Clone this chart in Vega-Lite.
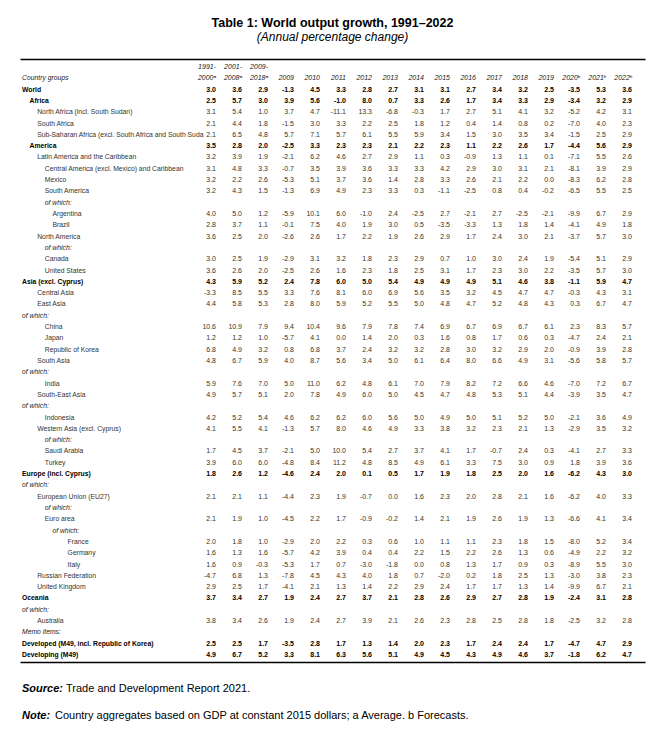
{
  "$schema": "https://vega.github.io/schema/vega-lite/v6.json",
  "width": 625,
  "height": 603,
  "autosize": {"type": "none"},
  "padding": {"left": 20, "top": 59, "right": 20, "bottom": 67},
  "background": "white",
  "title": {
    "text": "Table 1: World output growth, 1991–2022",
    "subtitle": "(Annual percentage change)",
    "anchor": "middle",
    "frame": "group",
    "font": "Liberation Sans",
    "fontSize": 12.5,
    "fontWeight": "bold",
    "color": "black",
    "subtitleFont": "Liberation Sans",
    "subtitleFontSize": 12,
    "subtitleFontStyle": "italic",
    "subtitleColor": "black",
    "offset": 16,
    "subtitlePadding": 3
  },
  "datasets": {
    "rows": [
      {"r": 0, "lv": 0, "k": "head", "name": "Country groups"},
      {"r": 1, "lv": 0, "k": "total", "name": "World", "p1": 3.0, "p2": 3.6, "p3": 2.9, "y09": -1.3, "y10": 4.5, "y11": 3.3, "y12": 2.8, "y13": 2.7, "y14": 3.1, "y15": 3.1, "y16": 2.7, "y17": 3.4, "y18": 3.2, "y19": 2.5, "y20": -3.5, "y21": 5.3, "y22": 3.6},
      {"r": 2, "lv": 1, "k": "total", "name": "Africa", "p1": 2.5, "p2": 5.7, "p3": 3.0, "y09": 3.9, "y10": 5.6, "y11": -1.0, "y12": 8.0, "y13": 0.7, "y14": 3.3, "y15": 2.6, "y16": 1.7, "y17": 3.4, "y18": 3.3, "y19": 2.9, "y20": -3.4, "y21": 3.2, "y22": 2.9},
      {"r": 3, "lv": 2, "k": "reg", "name": "North Africa (incl. South Sudan)", "p1": 3.1, "p2": 5.4, "p3": 1.0, "y09": 3.7, "y10": 4.7, "y11": -11.1, "y12": 13.3, "y13": -6.8, "y14": -0.3, "y15": 1.7, "y16": 2.7, "y17": 5.1, "y18": 4.1, "y19": 3.2, "y20": -5.2, "y21": 4.2, "y22": 3.1},
      {"r": 4, "lv": 2, "k": "reg", "name": "South Africa", "p1": 2.1, "p2": 4.4, "p3": 1.8, "y09": -1.5, "y10": 3.0, "y11": 3.3, "y12": 2.2, "y13": 2.5, "y14": 1.8, "y15": 1.2, "y16": 0.4, "y17": 1.4, "y18": 0.8, "y19": 0.2, "y20": -7.0, "y21": 4.0, "y22": 2.3},
      {"r": 5, "lv": 2, "k": "reg", "name": "Sub-Saharan Africa (excl. South Africa and South Suda", "p1": 2.1, "p2": 6.5, "p3": 4.8, "y09": 5.7, "y10": 7.1, "y11": 5.7, "y12": 6.1, "y13": 5.5, "y14": 5.9, "y15": 3.4, "y16": 1.5, "y17": 3.0, "y18": 3.5, "y19": 3.4, "y20": -1.5, "y21": 2.5, "y22": 2.9},
      {"r": 6, "lv": 1, "k": "total", "name": "America", "p1": 3.5, "p2": 2.8, "p3": 2.0, "y09": -2.5, "y10": 3.3, "y11": 2.3, "y12": 2.3, "y13": 2.1, "y14": 2.2, "y15": 2.3, "y16": 1.1, "y17": 2.2, "y18": 2.6, "y19": 1.7, "y20": -4.4, "y21": 5.6, "y22": 2.9},
      {"r": 7, "lv": 2, "k": "reg", "name": "Latin America and the Caribbean", "p1": 3.2, "p2": 3.9, "p3": 1.9, "y09": -2.1, "y10": 6.2, "y11": 4.6, "y12": 2.7, "y13": 2.9, "y14": 1.1, "y15": 0.3, "y16": -0.9, "y17": 1.3, "y18": 1.1, "y19": 0.1, "y20": -7.1, "y21": 5.5, "y22": 2.6},
      {"r": 8, "lv": 3, "k": "reg", "name": "Central America (excl. Mexico) and Caribbean", "p1": 3.1, "p2": 4.8, "p3": 3.3, "y09": -0.7, "y10": 3.5, "y11": 3.9, "y12": 3.6, "y13": 3.3, "y14": 3.3, "y15": 4.2, "y16": 2.9, "y17": 3.0, "y18": 3.1, "y19": 2.1, "y20": -8.1, "y21": 3.9, "y22": 2.9},
      {"r": 9, "lv": 3, "k": "reg", "name": "Mexico", "p1": 3.2, "p2": 2.2, "p3": 2.6, "y09": -5.3, "y10": 5.1, "y11": 3.7, "y12": 3.6, "y13": 1.4, "y14": 2.8, "y15": 3.3, "y16": 2.6, "y17": 2.1, "y18": 2.2, "y19": 0.0, "y20": -8.3, "y21": 6.2, "y22": 2.8},
      {"r": 10, "lv": 3, "k": "reg", "name": "South America", "p1": 3.2, "p2": 4.3, "p3": 1.5, "y09": -1.3, "y10": 6.9, "y11": 4.9, "y12": 2.3, "y13": 3.3, "y14": 0.3, "y15": -1.1, "y16": -2.5, "y17": 0.8, "y18": 0.4, "y19": -0.2, "y20": -6.5, "y21": 5.5, "y22": 2.5},
      {"r": 11, "lv": 3, "k": "ofw", "name": "of which:"},
      {"r": 12, "lv": 4, "k": "reg", "name": "Argentina", "p1": 4.0, "p2": 5.0, "p3": 1.2, "y09": -5.9, "y10": 10.1, "y11": 6.0, "y12": -1.0, "y13": 2.4, "y14": -2.5, "y15": 2.7, "y16": -2.1, "y17": 2.7, "y18": -2.5, "y19": -2.1, "y20": -9.9, "y21": 6.7, "y22": 2.9},
      {"r": 13, "lv": 4, "k": "reg", "name": "Brazil", "p1": 2.8, "p2": 3.7, "p3": 1.1, "y09": -0.1, "y10": 7.5, "y11": 4.0, "y12": 1.9, "y13": 3.0, "y14": 0.5, "y15": -3.5, "y16": -3.3, "y17": 1.3, "y18": 1.8, "y19": 1.4, "y20": -4.1, "y21": 4.9, "y22": 1.8},
      {"r": 14, "lv": 2, "k": "reg", "name": "North America", "p1": 3.6, "p2": 2.5, "p3": 2.0, "y09": -2.6, "y10": 2.6, "y11": 1.7, "y12": 2.2, "y13": 1.9, "y14": 2.6, "y15": 2.9, "y16": 1.7, "y17": 2.4, "y18": 3.0, "y19": 2.1, "y20": -3.7, "y21": 5.7, "y22": 3.0},
      {"r": 15, "lv": 3, "k": "ofw", "name": "of which:"},
      {"r": 16, "lv": 3, "k": "reg", "name": "Canada", "p1": 3.0, "p2": 2.5, "p3": 1.9, "y09": -2.9, "y10": 3.1, "y11": 3.2, "y12": 1.8, "y13": 2.3, "y14": 2.9, "y15": 0.7, "y16": 1.0, "y17": 3.0, "y18": 2.4, "y19": 1.9, "y20": -5.4, "y21": 5.1, "y22": 2.9},
      {"r": 17, "lv": 3, "k": "reg", "name": "United States", "p1": 3.6, "p2": 2.6, "p3": 2.0, "y09": -2.5, "y10": 2.6, "y11": 1.6, "y12": 2.3, "y13": 1.8, "y14": 2.5, "y15": 3.1, "y16": 1.7, "y17": 2.3, "y18": 3.0, "y19": 2.2, "y20": -3.5, "y21": 5.7, "y22": 3.0},
      {"r": 18, "lv": 0, "k": "total", "name": "Asia (excl. Cyprus)", "p1": 4.3, "p2": 5.9, "p3": 5.2, "y09": 2.4, "y10": 7.8, "y11": 6.0, "y12": 5.0, "y13": 5.4, "y14": 4.9, "y15": 4.9, "y16": 4.9, "y17": 5.1, "y18": 4.6, "y19": 3.8, "y20": -1.1, "y21": 5.9, "y22": 4.7},
      {"r": 19, "lv": 2, "k": "reg", "name": "Central Asia", "p1": -3.3, "p2": 8.5, "p3": 5.5, "y09": 3.3, "y10": 7.6, "y11": 8.1, "y12": 6.0, "y13": 6.9, "y14": 5.6, "y15": 3.5, "y16": 3.2, "y17": 4.5, "y18": 4.7, "y19": 4.7, "y20": -0.3, "y21": 4.3, "y22": 3.1},
      {"r": 20, "lv": 2, "k": "reg", "name": "East Asia", "p1": 4.4, "p2": 5.8, "p3": 5.3, "y09": 2.8, "y10": 8.0, "y11": 5.9, "y12": 5.2, "y13": 5.5, "y14": 5.0, "y15": 4.8, "y16": 4.7, "y17": 5.2, "y18": 4.8, "y19": 4.3, "y20": 0.3, "y21": 6.7, "y22": 4.7},
      {"r": 21, "lv": 0, "k": "ofw", "name": "of which:"},
      {"r": 22, "lv": 3, "k": "reg", "name": "China", "p1": 10.6, "p2": 10.9, "p3": 7.9, "y09": 9.4, "y10": 10.4, "y11": 9.6, "y12": 7.9, "y13": 7.8, "y14": 7.4, "y15": 6.9, "y16": 6.7, "y17": 6.9, "y18": 6.7, "y19": 6.1, "y20": 2.3, "y21": 8.3, "y22": 5.7},
      {"r": 23, "lv": 3, "k": "reg", "name": "Japan", "p1": 1.2, "p2": 1.2, "p3": 1.0, "y09": -5.7, "y10": 4.1, "y11": 0.0, "y12": 1.4, "y13": 2.0, "y14": 0.3, "y15": 1.6, "y16": 0.8, "y17": 1.7, "y18": 0.6, "y19": 0.3, "y20": -4.7, "y21": 2.4, "y22": 2.1},
      {"r": 24, "lv": 3, "k": "reg", "name": "Republic of Korea", "p1": 6.8, "p2": 4.9, "p3": 3.2, "y09": 0.8, "y10": 6.8, "y11": 3.7, "y12": 2.4, "y13": 3.2, "y14": 3.2, "y15": 2.8, "y16": 3.0, "y17": 3.2, "y18": 2.9, "y19": 2.0, "y20": -0.9, "y21": 3.9, "y22": 2.8},
      {"r": 25, "lv": 2, "k": "reg", "name": "South Asia", "p1": 4.8, "p2": 6.7, "p3": 5.9, "y09": 4.0, "y10": 8.7, "y11": 5.6, "y12": 3.4, "y13": 5.0, "y14": 6.1, "y15": 6.4, "y16": 8.0, "y17": 6.6, "y18": 4.9, "y19": 3.1, "y20": -5.6, "y21": 5.8, "y22": 5.7},
      {"r": 26, "lv": 0, "k": "ofw", "name": "of which:"},
      {"r": 27, "lv": 3, "k": "reg", "name": "India", "p1": 5.9, "p2": 7.6, "p3": 7.0, "y09": 5.0, "y10": 11.0, "y11": 6.2, "y12": 4.8, "y13": 6.1, "y14": 7.0, "y15": 7.9, "y16": 8.2, "y17": 7.2, "y18": 6.6, "y19": 4.6, "y20": -7.0, "y21": 7.2, "y22": 6.7},
      {"r": 28, "lv": 2, "k": "reg", "name": "South-East Asia", "p1": 4.9, "p2": 5.7, "p3": 5.1, "y09": 2.0, "y10": 7.8, "y11": 4.9, "y12": 6.0, "y13": 5.0, "y14": 4.5, "y15": 4.7, "y16": 4.8, "y17": 5.3, "y18": 5.1, "y19": 4.4, "y20": -3.9, "y21": 3.5, "y22": 4.7},
      {"r": 29, "lv": 0, "k": "ofw", "name": "of which:"},
      {"r": 30, "lv": 3, "k": "reg", "name": "Indonesia", "p1": 4.2, "p2": 5.2, "p3": 5.4, "y09": 4.6, "y10": 6.2, "y11": 6.2, "y12": 6.0, "y13": 5.6, "y14": 5.0, "y15": 4.9, "y16": 5.0, "y17": 5.1, "y18": 5.2, "y19": 5.0, "y20": -2.1, "y21": 3.6, "y22": 4.9},
      {"r": 31, "lv": 2, "k": "reg", "name": "Western Asia (excl. Cyprus)", "p1": 4.1, "p2": 5.5, "p3": 4.1, "y09": -1.3, "y10": 5.7, "y11": 8.0, "y12": 4.6, "y13": 4.9, "y14": 3.3, "y15": 3.8, "y16": 3.2, "y17": 2.3, "y18": 2.1, "y19": 1.3, "y20": -2.9, "y21": 3.5, "y22": 3.2},
      {"r": 32, "lv": 3, "k": "ofw", "name": "of which:"},
      {"r": 33, "lv": 3, "k": "reg", "name": "Saudi Arabia", "p1": 1.7, "p2": 4.5, "p3": 3.7, "y09": -2.1, "y10": 5.0, "y11": 10.0, "y12": 5.4, "y13": 2.7, "y14": 3.7, "y15": 4.1, "y16": 1.7, "y17": -0.7, "y18": 2.4, "y19": 0.3, "y20": -4.1, "y21": 2.7, "y22": 3.3},
      {"r": 34, "lv": 3, "k": "reg", "name": "Turkey", "p1": 3.9, "p2": 6.0, "p3": 6.0, "y09": -4.8, "y10": 8.4, "y11": 11.2, "y12": 4.8, "y13": 8.5, "y14": 4.9, "y15": 6.1, "y16": 3.3, "y17": 7.5, "y18": 3.0, "y19": 0.9, "y20": 1.8, "y21": 3.9, "y22": 3.6},
      {"r": 35, "lv": 0, "k": "total", "name": "Europe (incl. Cyprus)", "p1": 1.8, "p2": 2.6, "p3": 1.2, "y09": -4.6, "y10": 2.4, "y11": 2.0, "y12": 0.1, "y13": 0.5, "y14": 1.7, "y15": 1.9, "y16": 1.8, "y17": 2.5, "y18": 2.0, "y19": 1.6, "y20": -6.2, "y21": 4.3, "y22": 3.0},
      {"r": 36, "lv": 0, "k": "ofw", "name": "of which:"},
      {"r": 37, "lv": 2, "k": "reg", "name": "European Union (EU27)", "p1": 2.1, "p2": 2.1, "p3": 1.1, "y09": -4.4, "y10": 2.3, "y11": 1.9, "y12": -0.7, "y13": 0.0, "y14": 1.6, "y15": 2.3, "y16": 2.0, "y17": 2.8, "y18": 2.1, "y19": 1.6, "y20": -6.2, "y21": 4.0, "y22": 3.3},
      {"r": 38, "lv": 3, "k": "ofw", "name": "of which:"},
      {"r": 39, "lv": 3, "k": "reg", "name": "Euro area", "p1": 2.1, "p2": 1.9, "p3": 1.0, "y09": -4.5, "y10": 2.2, "y11": 1.7, "y12": -0.9, "y13": -0.2, "y14": 1.4, "y15": 2.1, "y16": 1.9, "y17": 2.6, "y18": 1.9, "y19": 1.3, "y20": -6.6, "y21": 4.1, "y22": 3.4},
      {"r": 40, "lv": 4, "k": "ofw", "name": "of which:"},
      {"r": 41, "lv": 6, "k": "reg", "name": "France", "p1": 2.0, "p2": 1.8, "p3": 1.0, "y09": -2.9, "y10": 2.0, "y11": 2.2, "y12": 0.3, "y13": 0.6, "y14": 1.0, "y15": 1.1, "y16": 1.1, "y17": 2.3, "y18": 1.8, "y19": 1.5, "y20": -8.0, "y21": 5.2, "y22": 3.4},
      {"r": 42, "lv": 6, "k": "reg", "name": "Germany", "p1": 1.6, "p2": 1.3, "p3": 1.6, "y09": -5.7, "y10": 4.2, "y11": 3.9, "y12": 0.4, "y13": 0.4, "y14": 2.2, "y15": 1.5, "y16": 2.2, "y17": 2.6, "y18": 1.3, "y19": 0.6, "y20": -4.9, "y21": 2.2, "y22": 3.2},
      {"r": 43, "lv": 6, "k": "reg", "name": "Italy", "p1": 1.6, "p2": 0.9, "p3": -0.3, "y09": -5.3, "y10": 1.7, "y11": 0.7, "y12": -3.0, "y13": -1.8, "y14": 0.0, "y15": 0.8, "y16": 1.3, "y17": 1.7, "y18": 0.9, "y19": 0.3, "y20": -8.9, "y21": 5.5, "y22": 3.0},
      {"r": 44, "lv": 2, "k": "reg", "name": "Russian Federation", "p1": -4.7, "p2": 6.8, "p3": 1.3, "y09": -7.8, "y10": 4.5, "y11": 4.3, "y12": 4.0, "y13": 1.8, "y14": 0.7, "y15": -2.0, "y16": 0.2, "y17": 1.8, "y18": 2.5, "y19": 1.3, "y20": -3.0, "y21": 3.8, "y22": 2.3},
      {"r": 45, "lv": 2, "k": "reg", "name": "United Kingdom", "p1": 2.9, "p2": 2.5, "p3": 1.7, "y09": -4.1, "y10": 2.1, "y11": 1.3, "y12": 1.4, "y13": 2.2, "y14": 2.9, "y15": 2.4, "y16": 1.7, "y17": 1.7, "y18": 1.3, "y19": 1.4, "y20": -9.9, "y21": 6.7, "y22": 2.1},
      {"r": 46, "lv": 0, "k": "total", "name": "Oceania", "p1": 3.7, "p2": 3.4, "p3": 2.7, "y09": 1.9, "y10": 2.4, "y11": 2.7, "y12": 3.7, "y13": 2.1, "y14": 2.8, "y15": 2.6, "y16": 2.9, "y17": 2.7, "y18": 2.8, "y19": 1.9, "y20": -2.4, "y21": 3.1, "y22": 2.8},
      {"r": 47, "lv": 0, "k": "ofw", "name": "of which:"},
      {"r": 48, "lv": 2, "k": "reg", "name": "Australia", "p1": 3.8, "p2": 3.4, "p3": 2.6, "y09": 1.9, "y10": 2.4, "y11": 2.7, "y12": 3.9, "y13": 2.1, "y14": 2.6, "y15": 2.3, "y16": 2.8, "y17": 2.5, "y18": 2.8, "y19": 1.8, "y20": -2.5, "y21": 3.2, "y22": 2.8},
      {"r": 49, "lv": 0, "k": "memo", "name": "Memo items:"},
      {"r": 50, "lv": 0, "k": "total", "name": "Developed (M49, incl. Republic of Korea)", "p1": 2.5, "p2": 2.5, "p3": 1.7, "y09": -3.5, "y10": 2.8, "y11": 1.7, "y12": 1.3, "y13": 1.4, "y14": 2.0, "y15": 2.3, "y16": 1.7, "y17": 2.4, "y18": 2.4, "y19": 1.7, "y20": -4.7, "y21": 4.7, "y22": 2.9},
      {"r": 51, "lv": 0, "k": "total", "name": "Developing (M49)", "p1": 4.9, "p2": 6.7, "p3": 5.2, "y09": 3.3, "y10": 8.1, "y11": 6.3, "y12": 5.6, "y13": 5.1, "y14": 4.9, "y15": 4.5, "y16": 4.3, "y17": 4.9, "y18": 4.6, "y19": 3.7, "y20": -1.8, "y21": 6.2, "y22": 4.7}
    ],
    "header": [
      {"col": "p1", "r": -1, "t": "1991-"}, {"col": "p1", "r": 0, "t": "2000ᵃ"},
      {"col": "p2", "r": -1, "t": "2001-"}, {"col": "p2", "r": 0, "t": "2008ᵃ"},
      {"col": "p3", "r": -1, "t": "2009-"}, {"col": "p3", "r": 0, "t": "2018ᵃ"},
      {"col": "y09", "r": 0, "t": "2009"}, {"col": "y10", "r": 0, "t": "2010"},
      {"col": "y11", "r": 0, "t": "2011"}, {"col": "y12", "r": 0, "t": "2012"},
      {"col": "y13", "r": 0, "t": "2013"}, {"col": "y14", "r": 0, "t": "2014"},
      {"col": "y15", "r": 0, "t": "2015"}, {"col": "y16", "r": 0, "t": "2016"},
      {"col": "y17", "r": 0, "t": "2017"}, {"col": "y18", "r": 0, "t": "2018"},
      {"col": "y19", "r": 0, "t": "2019"}, {"col": "y20", "r": 0, "t": "2020ᵇ"},
      {"col": "y21", "r": 0, "t": "2021ᵇ"}, {"col": "y22", "r": 0, "t": "2022ᵇ"}
    ],
    "notes": [
      {"r": 54, "lv": 0, "head": "Source:", "rest": "Trade and Development Report 2021."},
      {"r": 56.4, "lv": 0, "head": "Note:", "rest": "Country aggregates based on GDP at constant 2015 dollars; a Average. b Forecasts."}
    ]
  },
  "layer": [
    {
      "data": {"name": "rows"},
      "transform": [{"filter": "datum.k == 'reg'"}],
      "mark": {"type": "text", "align": "left", "baseline": "middle", "fontSize": 6.8, "font": "Liberation Sans", "color": "#333"},
      "encoding": {
        "x": {"field": "lv", "type": "quantitative", "scale": {"domain": [-0.263, 81.97], "nice": false, "zero": false},
              "axis": {"orient": "top", "domain": true, "domainColor": "black", "domainWidth": 1.5, "ticks": false, "labels": false, "grid": false, "title": null}},
        "y": {"field": "r", "type": "quantitative", "scale": {"domain": [-1.71, 51.62], "reverse": true, "nice": false, "zero": false}, "axis": null},
        "text": {"field": "name", "type": "nominal"}
      }
    },
    {
      "data": {"name": "rows"},
      "transform": [{"filter": "datum.k == 'total'"}],
      "mark": {"type": "text", "align": "left", "baseline": "middle", "fontSize": 6.8, "font": "Liberation Sans", "fontWeight": "bold", "color": "black"},
      "encoding": {
        "x": {"field": "lv", "type": "quantitative", "scale": {"domain": [-0.263, 81.97], "nice": false, "zero": false},
              "axis": {"orient": "bottom", "domain": true, "domainColor": "black", "domainWidth": 1.5, "ticks": false, "labels": false, "grid": false, "title": null}},
        "y": {"field": "r", "type": "quantitative", "axis": null},
        "text": {"field": "name", "type": "nominal"}
      }
    },
    {
      "data": {"name": "rows"},
      "transform": [{"filter": "datum.k == 'ofw' || datum.k == 'head' || datum.k == 'memo'"}],
      "mark": {"type": "text", "align": "left", "baseline": "middle", "fontSize": 6.8, "font": "Liberation Sans", "fontStyle": "italic", "color": "#222"},
      "encoding": {
        "x": {"field": "lv", "type": "quantitative", "scale": {"domain": [-0.263, 81.97], "nice": false, "zero": false}, "axis": null},
        "y": {"field": "r", "type": "quantitative", "axis": null},
        "text": {"field": "name", "type": "nominal"}
      }
    },
    {
      "data": {"name": "rows"},
      "transform": [
        {"fold": ["p1", "p2", "p3", "y09", "y10", "y11", "y12", "y13", "y14", "y15", "y16", "y17", "y18", "y19", "y20", "y21", "y22"], "as": ["col", "value"]},
        {"filter": "isValid(datum.value) && datum.k != 'total'"}
      ],
      "mark": {"type": "text", "align": "right", "baseline": "middle", "fontSize": 7, "font": "Liberation Sans", "color": "#333"},
      "encoding": {
        "x": {"field": "col", "type": "ordinal", "bandPosition": 0.93,
              "scale": {"domain": ["p1", "p2", "p3", "y09", "y10", "y11", "y12", "y13", "y14", "y15", "y16", "y17", "y18", "y19", "y20", "y21", "y22"], "range": [183, 625], "paddingInner": 0, "paddingOuter": 0},
              "axis": null},
        "y": {"field": "r", "type": "quantitative", "axis": null},
        "text": {"field": "value", "type": "quantitative", "format": ".1f"}
      }
    },
    {
      "data": {"name": "rows"},
      "transform": [
        {"fold": ["p1", "p2", "p3", "y09", "y10", "y11", "y12", "y13", "y14", "y15", "y16", "y17", "y18", "y19", "y20", "y21", "y22"], "as": ["col", "value"]},
        {"filter": "isValid(datum.value) && datum.k == 'total'"}
      ],
      "mark": {"type": "text", "align": "right", "baseline": "middle", "fontSize": 7, "font": "Liberation Sans", "fontWeight": "bold", "color": "black"},
      "encoding": {
        "x": {"field": "col", "type": "ordinal", "bandPosition": 0.93,
              "scale": {"domain": ["p1", "p2", "p3", "y09", "y10", "y11", "y12", "y13", "y14", "y15", "y16", "y17", "y18", "y19", "y20", "y21", "y22"], "range": [183, 625], "paddingInner": 0, "paddingOuter": 0},
              "axis": null},
        "y": {"field": "r", "type": "quantitative", "axis": null},
        "text": {"field": "value", "type": "quantitative", "format": ".1f"}
      }
    },
    {
      "data": {"name": "header"},
      "mark": {"type": "text", "align": "right", "baseline": "middle", "fontSize": 7, "font": "Liberation Sans", "fontStyle": "italic", "color": "#222"},
      "encoding": {
        "x": {"field": "col", "type": "ordinal", "bandPosition": 0.93,
              "scale": {"domain": ["p1", "p2", "p3", "y09", "y10", "y11", "y12", "y13", "y14", "y15", "y16", "y17", "y18", "y19", "y20", "y21", "y22"], "range": [183, 625], "paddingInner": 0, "paddingOuter": 0},
              "axis": null},
        "y": {"field": "r", "type": "quantitative", "axis": null},
        "text": {"field": "t", "type": "nominal"}
      }
    },
    {
      "data": {"name": "notes"},
      "mark": {"type": "text", "align": "left", "baseline": "middle", "fontSize": 11, "font": "Liberation Sans", "fontWeight": "bold", "fontStyle": "italic", "color": "black"},
      "encoding": {
        "x": {"field": "lv", "type": "quantitative", "scale": {"domain": [-0.263, 81.97], "nice": false, "zero": false}, "axis": null},
        "y": {"field": "r", "type": "quantitative", "axis": null},
        "text": {"field": "head", "type": "nominal"}
      }
    },
    {
      "data": {"name": "notes"},
      "transform": [{"filter": "datum.head == 'Source:'"}],
      "mark": {"type": "text", "align": "left", "baseline": "middle", "fontSize": 11, "font": "Liberation Sans", "color": "black", "dx": 44},
      "encoding": {
        "x": {"field": "lv", "type": "quantitative", "scale": {"domain": [-0.263, 81.97], "nice": false, "zero": false}, "axis": null},
        "y": {"field": "r", "type": "quantitative", "axis": null},
        "text": {"field": "rest", "type": "nominal"}
      }
    },
    {
      "data": {"name": "notes"},
      "transform": [{"filter": "datum.head == 'Note:'"}],
      "mark": {"type": "text", "align": "left", "baseline": "middle", "fontSize": 11, "font": "Liberation Sans", "color": "black", "dx": 33},
      "encoding": {
        "x": {"field": "lv", "type": "quantitative", "scale": {"domain": [-0.263, 81.97], "nice": false, "zero": false}, "axis": null},
        "y": {"field": "r", "type": "quantitative", "axis": null},
        "text": {"field": "rest", "type": "nominal"}
      }
    }
  ],
  "resolve": {"scale": {"x": "independent"}, "axis": {"x": "independent"}},
  "config": {
    "view": {"stroke": null},
    "locale": {"number": {"decimal": ".", "thousands": ",", "grouping": [3], "currency": ["$", ""], "minus": "-"}}
  }
}
